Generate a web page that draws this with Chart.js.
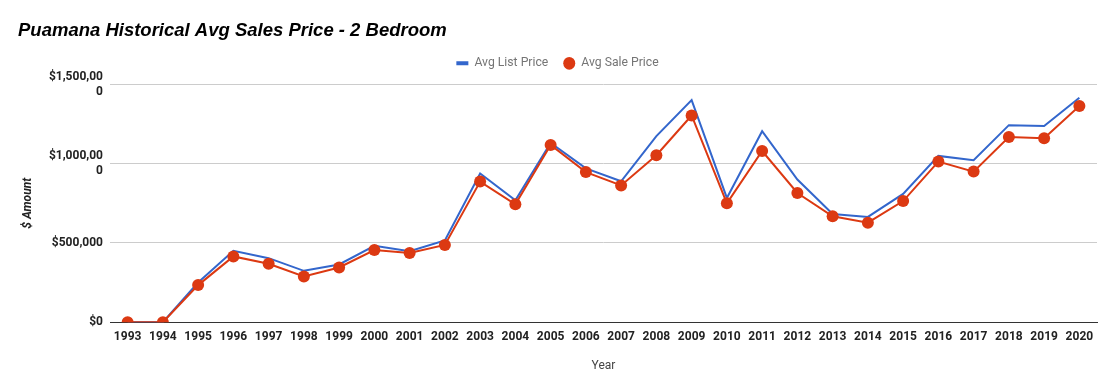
<!DOCTYPE html>
<html>
<head>
<meta charset="utf-8">
<script src="https://cdn.jsdelivr.net/npm/chart.js@4.4.0/dist/chart.umd.min.js"></script>
<style>
  html,body{margin:0;padding:0;background:#fff;}
  #wrap{width:1116px;height:389px;position:relative;}
</style>
</head>
<body>
<div id="wrap"><canvas id="chart"></canvas></div>
<script>
// Puamana - preços médios 2 quartos
const years = ["1993","1994","1995","1996","1997","1998","1999","2000","2001","2002","2003","2004","2005","2006",
  "2007","2008","2009","2010","2011","2012","2013","2014","2015","2016","2017","2018","2019","2020"];
const listPrice = [0,0,250000,450000,404000,324000,364000,482000,448000,516000,938000,769000,1131000,970000,
  889000,1174000,1401000,784000,1205000,900000,683000,664000,809000,1049000,1022000,1243000,1237000,1416000];
const salePrice = [0,0,234000,415000,369000,288000,345000,455000,436000,487000,887000,744000,1118000,947000,
  863000,1053000,1304000,750000,1080000,815000,668000,628000,764000,1013000,950000,1168000,1161000,1364000];
const yTicks = [0,500000,1000000,1500000];

const BLUE = "#3366cc", RED = "#dc3912";

function fmtMoney(v){
  const s = "$" + v.toLocaleString("en-US");
  // rótulos longos quebram como no original
  return s.length > 8 ? [s.slice(0,9), s.slice(9)] : s;
}

// espaço extra entre legenda e área do gráfico
const legendGap = {
  id:"legendGap",
  beforeInit(chart){
    const fit = chart.legend.fit;
    chart.legend.fit = function(){ fit.call(this); this.height += 5; };
  }
};

const ctx = document.getElementById("chart");
new Chart(ctx, {
  type:"line",
  plugins:[legendGap],
  data:{
    labels: years,
    datasets:[
      { label:"Avg List Price", data:listPrice, borderColor:BLUE, backgroundColor:BLUE,
        borderWidth:2, pointRadius:0, pointHoverRadius:0, tension:0, order:2 },
      { label:"Avg Sale Price", data:salePrice, borderColor:RED, backgroundColor:RED,
        borderWidth:2, pointRadius:6, pointBorderWidth:0, tension:0, order:1 }
    ]
  },
  options:{
    responsive:true, maintainAspectRatio:false, animation:false,
    layout:{ padding:{ left:18, right:19, top:10, bottom:12 } },
    plugins:{
      title:{
        display:true, text:"Puamana Historical Avg Sales Price - 2 Bedroom", align:"start",
        color:"#000", font:{ family:"Liberation Sans, Arial", size:18.5, weight:"bold", style:"italic" },
        padding:{ top:10, bottom:0 }
      },
      legend:{
        display:true, position:"top", align:"center",
        labels:{
          color:"#757575", font:{ family:"Roboto", size:12.2 }, usePointStyle:true,
          boxWidth:12, boxHeight:9, pointStyleWidth:12, padding:15,
          sort:(a,b)=> a.datasetIndex - b.datasetIndex,
          generateLabels:(chart)=> chart.data.datasets.map((ds,i)=>({
            text: ds.label, datasetIndex:i,
            fillStyle: ds.borderColor, strokeStyle: ds.borderColor,
            lineWidth: i===0 ? 4 : 0,
            pointStyle: i===0 ? "line" : "circle",
            fontColor:"#757575", hidden:false
          }))
        }
      },
      tooltip:{ enabled:false }
    },
    scales:{
      x:{
        offset:true,
        grid:{ display:false, drawTicks:false },
        border:{ display:true, color:"#333", width:1 },
        ticks:{ color:"#222", font:{ family:"Roboto", size:12, weight:"bold" }, padding:8, maxRotation:0, autoSkip:false },
        title:{ display:true, text:"Year", color:"#444", font:{ family:"Roboto", size:12 }, padding:{ top:6 } }
      },
      y:{
        min:0, max:1500000,
        afterBuildTicks:(s)=>{ s.ticks = yTicks.map(v=>({ value:v })); },
        afterFit:(s)=>{ s.width = 92; },
        grid:{ color:(c)=> c.tick && c.tick.value===0 ? "#333" : "#cccccc", drawTicks:false },
        border:{ display:false },
        ticks:{ color:"#222", font:{ family:"Roboto", size:12, weight:"bold" }, padding:7,
          callback:(v)=> fmtMoney(v) },
        title:{ display:true, text:"$ Amount", color:"#222",
          font:{ family:"Roboto", size:12, weight:"bold", style:"italic" }, padding:{ top:3, bottom:3 } }
      }
    }
  }
});
</script>
</body>
</html>
